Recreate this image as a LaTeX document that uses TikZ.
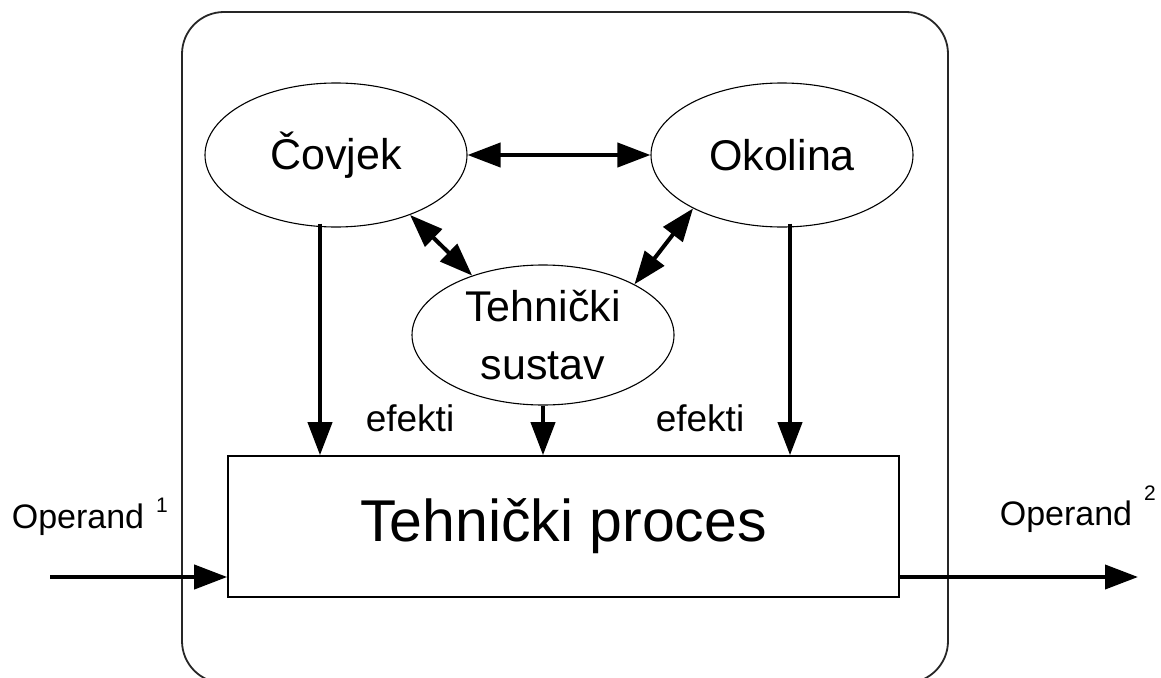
\documentclass[tikz,border=0pt]{standalone}
\usepackage{fontspec}
\setmainfont{Liberation Sans}
\usetikzlibrary{shapes.geometric,arrows.meta}
\begin{document}
\begin{tikzpicture}[x=1pt,y=-1pt,
  oval/.style={ellipse,draw,line width=1.1pt,inner sep=0pt,minimum width=262pt,minimum height=144pt,align=center,font=\fontsize{43}{58}\selectfont},
  procbox/.style={rectangle,draw,line width=1.6pt,inner sep=0pt,minimum width=671pt,minimum height=141pt,font=\fontsize{59}{70}\selectfont},
  arr/.style={line width=4pt,-{Triangle[length=33pt,width=24pt]}},
  darr/.style={line width=4pt,{Triangle[length=33pt,width=24pt]}-{Triangle[length=33pt,width=24pt]}},
  lbl/.style={inner sep=0pt,font=\fontsize{37}{40}\selectfont},
  sup/.style={inner sep=0pt,font=\fontsize{21}{24}\selectfont}]
\clip (0,0) rectangle (1161,677);
\fill[white] (0,0) rectangle (1161,677);
\draw[line width=1.8pt,rounded corners=42pt,black!85] (182,12) rectangle (948,683);
\node[oval] (cov) at (336,155) {Čovjek};
\node[oval] (oko) at (782,155) {Okolina};
\node[oval,minimum height=140pt] (teh) at (543,335) {Tehnički\\sustav};
\node[procbox] (proc) at (563.5,526.5) {Tehnički proces};
\draw[darr] (cov.east) -- (oko.west);
\draw[darr] (cov.-39) -- (teh.140);
\draw[darr] (oko.-149) -- (teh.29);
\coordinate (c1) at (320,0);
\coordinate (c2) at (790,0);
\draw[arr] (c1 |- cov.south) ++(0,-4) -- (c1 |- proc.north);
\draw[arr] (c2 |- oko.south) ++(0,-4) -- (c2 |- proc.north);
\draw[arr] (teh.south) -- (proc.north -| teh.south);
\coordinate (inS) at (50,577);
\coordinate (outE) at (1138,577);
\draw[arr] (inS) -- (inS -| proc.west);
\draw[arr] (proc.east |- outE) -- (outE);
\node[lbl] (ef1) at (410,418) {efekti};
\node[lbl] (ef2) at (700,418) {efekti};
\node[lbl,font=\fontsize{34}{36}\selectfont] (op1) at (78,520) {Operand};
\node[sup] (s1) at (162,505) {1};
\node[lbl,font=\fontsize{34}{36}\selectfont] (op2) at (1066,517) {Operand};
\node[sup] (s2) at (1150,493) {2};
\end{tikzpicture}
\end{document}
